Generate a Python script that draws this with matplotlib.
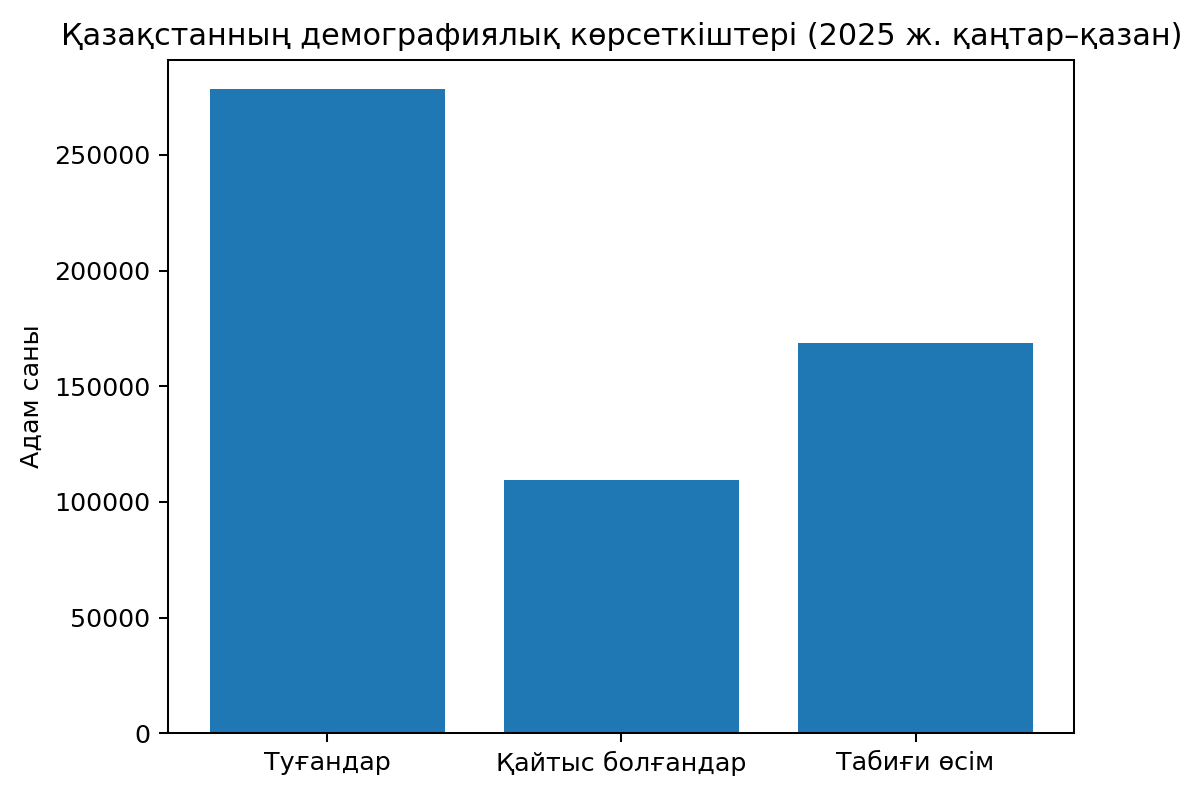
import matplotlib
matplotlib.use('Agg')
import matplotlib.pyplot as plt

# деректер
categories = ['Туғандар', 'Қайтыс болғандар', 'Табиғи өсім']
values = [278400, 109300, 168800]

fig = plt.figure(figsize=(1200 / 183, 795 / 183), dpi=183)
ax = fig.add_axes([0.1403, 0.0776, 0.755, 0.8469])
ax.bar(categories, values)
ax.set_ylim(0, 291000)
ax.set_title('Қазақстанның демографиялық көрсеткіштері (2025 ж. қаңтар–қазан)', fontsize=11.9)
ax.set_ylabel('Адам саны')

fig.savefig('out.png', dpi=183)
